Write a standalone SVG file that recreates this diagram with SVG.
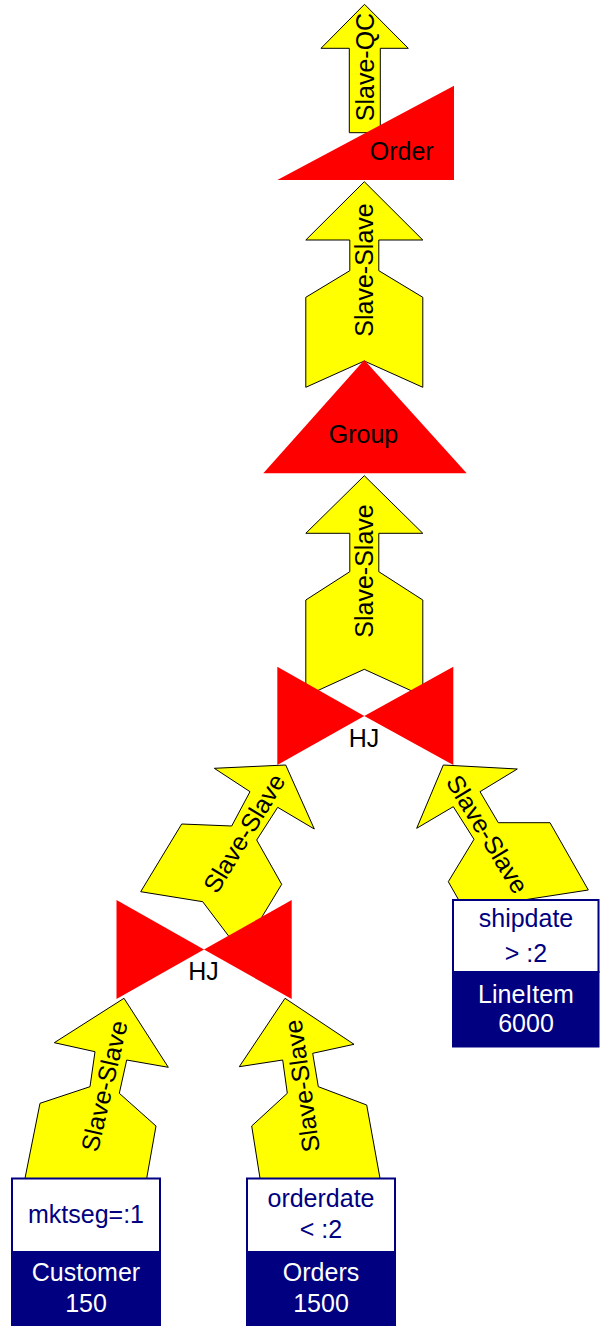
<svg xmlns="http://www.w3.org/2000/svg" width="600" height="1326" viewBox="0 0 600 1326">
<style>
text{font-family:"Liberation Sans",Arial,sans-serif;font-size:25px;fill:#000;text-anchor:middle}
.arrow{fill:#ffff00;stroke:#000;stroke-width:1}
.op{fill:#ff0000;stroke:none}
.boxtop{fill:#fff;stroke:#000080;stroke-width:2}
.boxbot{fill:#000080;stroke:#000080;stroke-width:2}
.nv{fill:#000080}
.wh{fill:#fff}
</style>
<rect width="600" height="1326" fill="#fff"/>
<g id="connectors">
  <g id="arrow-qc">
    <polygon class="arrow" points="364.5,4.3 408.3,48.3 380.3,48.3 380.3,132.7 349.3,132.7 349.3,48.3 321,48.3"/>
    <text transform="translate(364.5,67) rotate(-90)" dy="9">Slave-QC</text>
  </g>
  <g id="arrow-ss1">
    <polygon class="arrow" points="364.3,181.7 422.8,240 378.8,240 378.8,270.7 422.8,297.3 422.8,387.3 364.3,361 305.8,387.3 305.8,297.3 349.8,270.7 349.8,240 305.8,240"/>
    <text transform="translate(364,270) rotate(-90)" dy="9">Slave-Slave</text>
  </g>
  <g id="arrow-ss2">
    <polygon class="arrow" points="364.3,475.7 422.8,533.3 378.8,533.3 378.8,571.7 422.8,600 422.8,696 364.3,669.3 305.8,696 305.8,600 349.8,571.7 349.8,533.3 305.8,533.3"/>
    <text transform="translate(363.5,571) rotate(-90)" dy="9">Slave-Slave</text>
  </g>
  <g id="arrow-ss3">
    <polygon class="arrow" points="285.7,765 314.3,829 277.7,807.3 256.7,840 281.7,884.3 240.7,952 202.7,901.7 140.7,891.7 181.7,824 231.7,826 250,791.7 214.3,768.3"/>
    <text transform="translate(244,833) rotate(-58.7)" dy="9">Slave-Slave</text>
  </g>
  <g id="arrow-ss4">
    <polygon class="arrow" points="443.3,765 517.3,769 480,791.7 498.3,822.7 550,822.7 588.3,890 526,899.6 486.6,949 448.3,881.7 474,839.3 453.3,806.7 416.7,828.3"/>
    <text transform="translate(487.5,834) rotate(58.7)" dy="9">Slave-Slave</text>
  </g>
  <g id="arrow-ss5">
    <polygon class="arrow" points="124,998.3 168.3,1067.3 126.7,1060 119.3,1093.3 156,1126 146.7,1178.3 145,1190 85,1182 23,1190 25,1178.3 40,1103.3 90,1086.7 95,1051.7 54.3,1042.7"/>
    <text transform="translate(104,1086) rotate(-77)" dy="9">Slave-Slave</text>
  </g>
  <g id="arrow-ss6">
    <polygon class="arrow" points="285,998.3 354,1044.3 312.7,1053.3 318.3,1086.7 366.7,1105 380,1178.3 382,1190 320,1182 258,1190 260,1178.3 251.7,1126 287.3,1093.3 282.7,1060 239.3,1066.7"/>
    <text transform="translate(301.7,1086) rotate(-98)" dy="9">Slave-Slave</text>
  </g>
</g>
<g id="order">
  <polygon class="op" points="277.3,180 454,85.7 454,180"/>
  <text x="401.7" y="160">Order</text>
</g>
<g id="group">
  <polygon class="op" points="364.3,360 466.7,473.3 263.3,473.3"/>
  <text x="363.5" y="443">Group</text>
</g>
<g id="hj1">
  <polygon class="op" points="277.3,666.7 277.3,765 364.3,716"/>
  <polygon class="op" points="453.3,666.7 453.3,765 364.3,716"/>
  <text x="364" y="746.7">HJ</text>
</g>
<g id="hj2">
  <polygon class="op" points="116.5,900 116.5,999 204,949.5"/>
  <polygon class="op" points="291.7,900 291.7,999 204,949.5"/>
  <text x="203.5" y="980">HJ</text>
</g>
<g id="lineitem">
  <rect class="boxtop" x="453" y="900" width="145.5" height="72"/>
  <rect class="boxbot" x="453" y="972" width="145.5" height="74.5"/>
  <text class="nv" x="526" y="927">shipdate</text>
  <text class="nv" x="526" y="962">&gt; :2</text>
  <text class="wh" x="526" y="1003">LineItem</text>
  <text class="wh" x="526" y="1032">6000</text>
</g>
<g id="customer">
  <rect class="boxtop" x="12" y="1178.5" width="148" height="73.5"/>
  <rect class="boxbot" x="12" y="1252" width="148" height="80"/>
  <text class="nv" x="86" y="1223">mktseg=:1</text>
  <text class="wh" x="86" y="1281">Customer</text>
  <text class="wh" x="86" y="1312">150</text>
</g>
<g id="orders">
  <rect class="boxtop" x="247" y="1178.5" width="148" height="73.5"/>
  <rect class="boxbot" x="247" y="1252" width="148" height="80"/>
  <text class="nv" x="321" y="1206.7">orderdate</text>
  <text class="nv" x="321" y="1238.3">&lt; :2</text>
  <text class="wh" x="321" y="1281">Orders</text>
  <text class="wh" x="321" y="1312">1500</text>
</g>
</svg>
